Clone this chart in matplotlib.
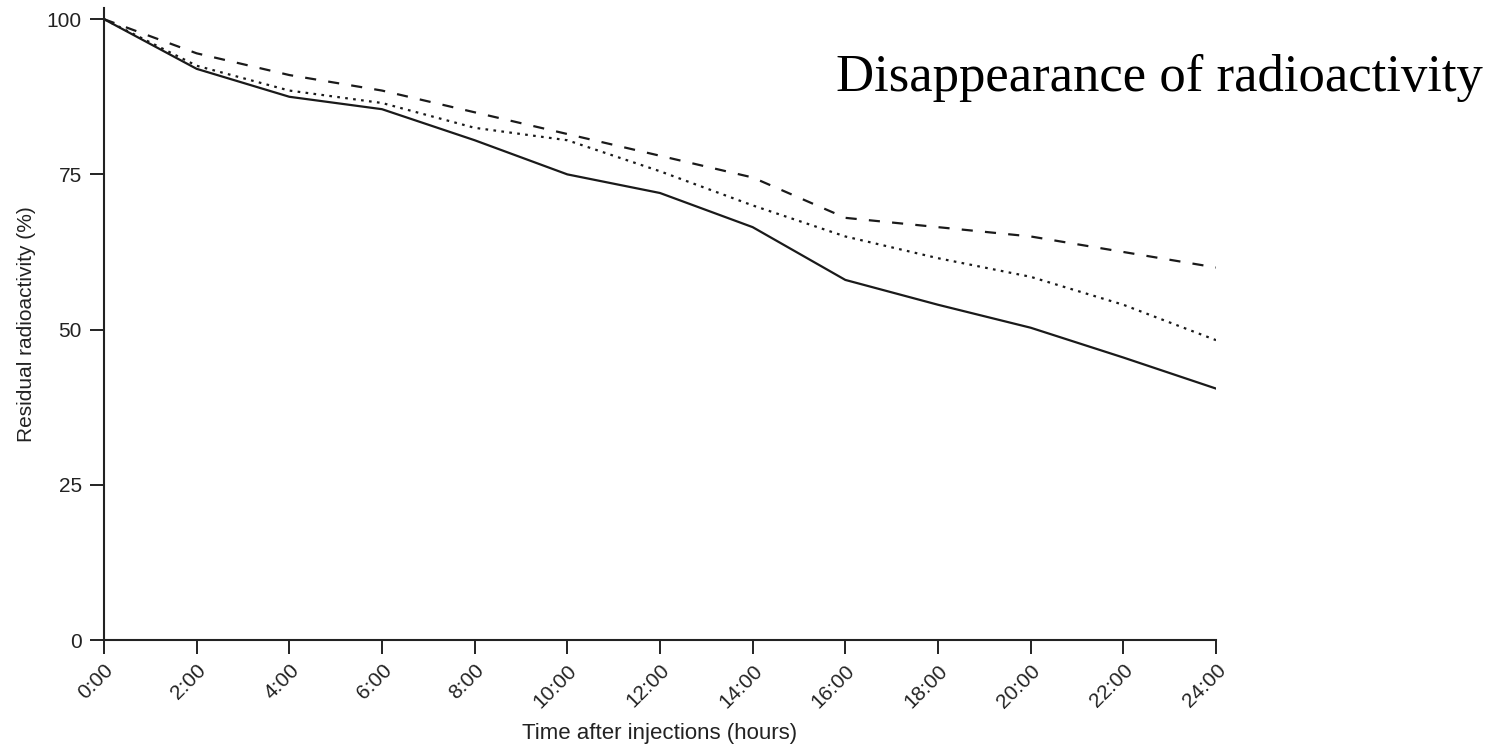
import matplotlib
matplotlib.use("Agg")
import matplotlib.pyplot as plt
import numpy as np

# hours after injection
hours = [0, 2, 4, 6, 8, 10, 12, 14, 16, 18, 20, 22, 24]
tick_labels = ["0:00", "2:00", "4:00", "6:00", "8:00", "10:00", "12:00",
               "14:00", "16:00", "18:00", "20:00", "22:00", "24:00"]

# residual radioactivity (%)
solid_vals = [100, 92, 87.5, 85.5, 80.5, 75, 72, 66.5, 58, 54, 50.3, 45.5, 40.5]
dotted_vals = [100, 92.5, 88.5, 86.5, 82.5, 80.5, 75.5, 70, 65, 61.5, 58.5, 54, 48.3]
dashed_vals = [100, 94.5, 91, 88.5, 85, 81.5, 78, 74.5, 68, 66.5, 65, 62.5, 60]

plt.rcParams['font.family'] = ['Liberation Sans', 'DejaVu Sans']

fig = plt.figure(figsize=(14.94, 7.46), dpi=100)
ax = fig.add_axes([104 / 1494, 106 / 746, (1216 - 104) / 1494, (640 - 8) / 746])

ax.plot(hours, solid_vals, color="#1a1a1a", lw=1.6, ls="-")
ax.plot(hours, dotted_vals, color="#1a1a1a", lw=1.6, ls=(0, (1.2, 2.4)))
ax.plot(hours, dashed_vals, color="#1a1a1a", lw=1.6, ls=(0, (5, 5.5)))

ax.set_xlim(0, 24)
ax.set_ylim(0, 101.8)
ax.set_xticks(hours)
ax.set_xticklabels(tick_labels, rotation=45, ha="right", rotation_mode="anchor",
                   fontsize=15, color="#222222")
ax.set_yticks([0, 25, 50, 75, 100])
ax.set_yticklabels(["0", "25", "50", "75", "100"], fontsize=15, color="#222222")

for side in ["top", "right"]:
    ax.spines[side].set_visible(False)
for side in ["left", "bottom"]:
    ax.spines[side].set_linewidth(1.5)
    ax.spines[side].set_color("#222222")
ax.tick_params(axis="both", direction="out", length=10, width=1.4, color="#222222")
ax.tick_params(axis="x", pad=5)
ax.tick_params(axis="y", pad=6)

ax.set_xlabel("Time after injections (hours)", fontsize=16, color="#222222", labelpad=8)
ax.set_ylabel("Residual radioactivity (%)", fontsize=15, color="#222222", labelpad=8)

fig.text(0.9925, 1 - 91 / 746, "Disappearance of radioactivity", ha="right",
         va="baseline", fontsize=38, family="Liberation Serif", color="black")

fig.savefig("out.png", dpi=100)
